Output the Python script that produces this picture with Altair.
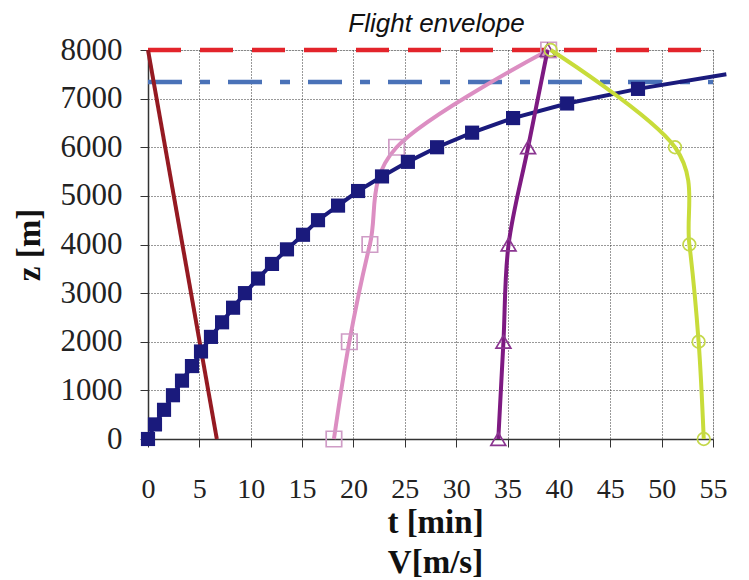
import altair as alt
import pandas as pd

# ---------------- data ----------------
x_ticks = [0, 5, 10, 15, 20, 25, 30, 35, 40, 45, 50, 55]
y_ticks = [0, 1000, 2000, 3000, 4000, 5000, 6000, 7000, 8000]

# climb: time [min] vs altitude (filled navy squares)
climb_t = [0, 0.68, 1.56, 2.43, 3.31, 4.28, 5.16, 6.13, 7.21, 8.28, 9.44, 10.71,
           12.07, 13.53, 15.09, 16.55, 18.5, 20.45, 22.78, 25.3, 28.14, 31.55,
           35.54, 40.8, 47.7, 56.3]
climb_z = [0, 300, 600, 900, 1200, 1500, 1800, 2100, 2400, 2700, 3000, 3300,
           3600, 3900, 4200, 4500, 4800, 5100, 5400, 5700, 6000, 6300, 6600,
           6900, 7200, 7500]
climb_marker = [True] * 25 + [False]

# dark red straight line
descent_t = [6.7, 0.0]
descent_z = [0, 8000]

# speed profiles
levels_z = [0, 2000, 4000, 6000, 8000]
pink_v = [18.1, 19.6, 21.6, 24.2, 39.0]
purple_v = [34.1, 34.6, 35.1, 37.0, 38.9]
yellow_v = [54.1, 53.6, 52.7, 51.3, 39.2]

# horizontal limits
ceiling_z = [8000]
service_z = [7340]
limit_from = [0]
limit_to = [55]

# ---------------- frames ----------------
climb = pd.DataFrame({"t": climb_t, "z": climb_z, "m": climb_marker})
descent = pd.DataFrame({"t": descent_t, "z": descent_z})
pink = pd.DataFrame({"t": pink_v, "z": levels_z})
purple = pd.DataFrame({"t": purple_v, "z": levels_z})
yellow = pd.DataFrame({"t": yellow_v, "z": levels_z})
ceiling = pd.DataFrame({"t": limit_from, "t2": limit_to, "z": ceiling_z})
service = pd.DataFrame({"t": limit_from, "t2": limit_to, "z": service_z})

SERIF = "Liberation Serif"

xs = alt.Scale(domain=[0, 55], nice=False, zero=False)
ys = alt.Scale(domain=[0, 8000], nice=False, zero=False)

xaxis = alt.Axis(
    values=x_ticks, format="d", grid=True, gridDash=[1, 2], gridColor="#333", gridWidth=1,
    tickSize=8, tickColor="#333", tickWidth=1, domainColor="#333", domainWidth=1.5,
    labelFont=SERIF, labelFontSize=28, labelColor="#222", labelPadding=28,
    labelFlush=False, labelOverlap=False,
    titleFont=SERIF, titleFontSize=33, titleFontWeight="bold", titleColor="#111",
    titleLineHeight=40, titleX=287, titleY=93, titleBaseline="alphabetic",
    titleAlign="center",
)
yaxis = alt.Axis(
    values=y_ticks, format="d", grid=True, gridDash=[1, 2], gridColor="#333", gridWidth=1,
    tickSize=8, tickColor="#333", tickWidth=1, domainColor="#333", domainWidth=1.5,
    labelFont=SERIF, labelFontSize=31, labelColor="#222", labelPadding=18,
    labelFlush=False, labelOverlap=False,
    titleFont=SERIF, titleFontSize=33, titleFontWeight="bold", titleColor="#111",
    titleX=-119, titleY=194.5, titleBaseline="middle", titleAlign="center",
    titleAngle=270,
)

X = alt.X("t:Q", scale=xs, axis=xaxis, title=["t [min]", "V[m/s]"])
Y = alt.Y("z:Q", scale=ys, axis=yaxis, title="z [m]")
O = alt.Order("z:Q")

ceil_layer = alt.Chart(ceiling).mark_rule(
    color="#e3242b", strokeWidth=4.5, strokeDash=[33, 19], strokeCap="butt"
).encode(x=X, x2="t2:Q", y=Y)

serv_layer = alt.Chart(service).mark_rule(
    color="#4a72b8", strokeWidth=4.5, strokeDash=[34, 18, 10, 18], strokeCap="butt"
).encode(x=X, x2="t2:Q", y=Y)

desc_layer = alt.Chart(descent).mark_line(
    color="#951a22", strokeWidth=4
).encode(x=X, y=Y, order=O)

def profile(df, line_color, mark_color, shape, size):
    line = alt.Chart(df).mark_line(
        color=line_color, strokeWidth=4, interpolate="cardinal"
    ).encode(x=X, y=Y, order=O)
    pts = alt.Chart(df).mark_point(
        shape=shape, size=size, filled=False, color=mark_color,
        strokeWidth=1.7, opacity=1
    ).encode(x=X, y=Y)
    return line + pts

pink_layer = profile(pink, "#dc8ec2", "#cf9cc6", "square", 240)

climb_line = alt.Chart(climb).mark_line(
    color="#1a1a7c", strokeWidth=4
).encode(x=X, y=Y, order=O)
climb_pts = alt.Chart(climb).transform_filter("datum.m").mark_point(
    shape="square", size=200, filled=True, color="#1a1a7c", opacity=1
).encode(x=X, y=Y)

purple_layer = profile(purple, "#7e1a82", "#8a3590", "triangle-up", 220)
yellow_layer = profile(yellow, "#c8dc3a", "#c4d84a", "circle", 160)

chart = alt.layer(
    ceil_layer, serv_layer, desc_layer, pink_layer, climb_line, climb_pts,
    purple_layer, yellow_layer,
).properties(
    width=565, height=389,
    padding={"left": 148, "top": 50, "right": 36, "bottom": 141},
    autosize=alt.AutoSizeParams(type="none"),
    title=alt.TitleParams(
        "Flight envelope", font="Liberation Sans", fontSize=26, fontStyle="italic",
        fontWeight="normal", anchor="middle", frame="group", offset=0,
        baseline="alphabetic", dx=6, dy=24, color="#111",
    ),
).configure_view(
    stroke="#a0a0a0", strokeWidth=1
).configure(background="white")

chart.save("out.html", embed_options={"renderer": "svg", "actions": False})
